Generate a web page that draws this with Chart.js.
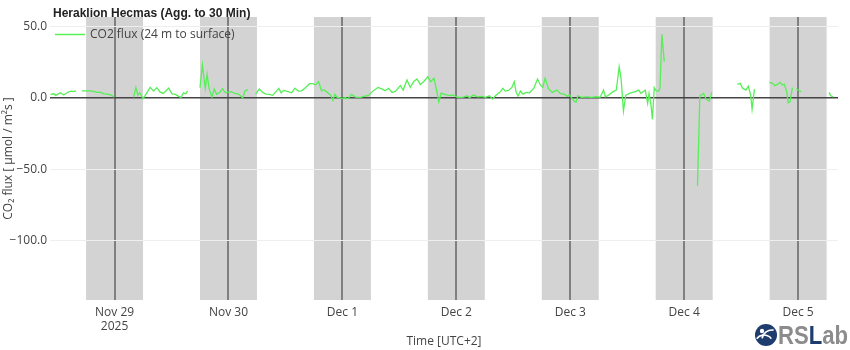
<!DOCTYPE html>
<html>
<head>
<meta charset="utf-8">
<script src="https://cdn.jsdelivr.net/npm/chart.js@4"></script>
<style>
  html, body { margin: 0; padding: 0; background: #fff; }
</style>
</head>
<body>
<canvas id="chart" width="850" height="350"></canvas>
<script>
// ---------------- DATA ----------------
// hours relative to Nov 29 2025 00:00 (UTC+2); null = gap in record

const fluxHours = [
    -13.5, -12.8, -12.4, -11.4, -10.7, -9.8, -9.1, -8.6, -8.1, -7.5,
    -6.9, -5.1, -4.4, -3.7, -3.0, -2.3, -1.4, -0.6, -0.1, 2.0,
    4.0, 4.5, 4.9, 5.3, 6.0, 6.5, 7.5, 8.2, 8.9, 9.6, 10.3, 11.4, 12.1, 12.8, 13.5, 14.0, 14.5, 15.0, 15.4, 16.5,
    18.0, 18.5, 19.1, 19.5, 19.9, 20.5, 21.0, 21.5, 22.2, 22.7, 23.4, 24.4, 25.4, 26.1, 27.0, 27.5, 28.1, 29.0,
    29.7, 30.5, 31.2, 31.9, 32.6, 33.3, 34.0, 34.6, 35.1, 35.6, 36.4, 37.3, 38.0, 38.7, 39.4, 40.2, 41.1, 41.8,
    42.3, 43.0, 43.6, 44.1, 44.8, 45.5, 46.0, 46.4, 46.9, 47.6, 47.9, 48.6, 49.2, 49.9, 50.4, 50.7, 51.8, 52.7,
    53.5, 54.6, 55.5, 56.4, 57.0, 57.7, 58.5, 59.2, 60.2, 60.8, 61.6, 62.3, 63.0, 63.7, 64.4, 65.1, 66.0, 66.6,
    67.3, 67.9, 68.3, 68.8, 69.5, 70.4, 71.4, 72.1, 72.8, 73.5, 74.3, 74.8, 75.6, 76.5, 77.4, 78.1, 79.0, 79.6,
    80.4, 81.3, 81.8, 82.3, 83.0, 83.7, 84.2, 84.6, 85.0, 85.5, 86.0, 86.7, 87.4, 88.3, 89.1, 89.7, 90.2, 90.7,
    91.4, 92.2, 93.2, 93.9, 94.7, 95.4, 95.8, 96.3, 96.7, 97.2, 97.6, 98.4, 99.5, 100.5, 101.5, 102.3, 103.0,
    103.4, 104.1, 105.0, 105.7, 106.3, 106.7, 107.2, 107.7, 108.6, 109.7, 110.4, 110.9, 111.8, 112.3, 112.6,
    113.0, 113.3, 113.7, 114.1, 114.6, 114.9, 115.3, 115.8, 119.0,
    122.8, 123.3, 124.1, 124.6, 125.3, 125.8, 128.0,
    131.2, 131.8, 132.3, 133.0, 133.5, 134.0, 134.3, 134.8, 136.0,
    137.9, 138.6, 139.1, 139.6, 140.2, 140.7, 141.1, 141.6, 141.9, 142.3, 142.8, 143.2,
    143.6, 144.1, 144.6, 147.0,
    150.5, 150.9, 151.4
];

const fluxValues = [
    2.6, 3.0, 1.9, 3.7, 2.1, 4.2, 4.9, 4.5, 5.1, null,
    5.1, 5.1, 4.7, 4.0, 4.2, 3.0, 2.8, 1.9, 0.5, null,
    0.5, 7.5, 2.1, 3.7, -0.5, 2.1, 7.5, 4.9, 7.3, 4.2, 3.3, 7.0, 3.0, 2.6, 1.2, 0.5, 3.7, 3.0, 5.1, null,
    7.3, 23.2, 6.8, 16.7, 6.8, 0.7, 6.3, 2.6, 4.0, 6.5, 3.7, 4.5, 3.3, 2.8, 0.2, 5.1, 5.9, null,
    2.8, 6.3, 4.0, 2.8, 2.6, 1.9, 4.5, 6.8, 3.7, 5.4, 4.7, 3.7, 7.0, 4.9, 5.1, 7.3, 10.1, 10.1,
    9.2, 11.5, 5.1, 5.9, 4.0, 2.1, -1.6, 2.6, 0.5, 0.2, -0.2, 0.2, -0.5, 2.6, 1.6, 0.7, 0.5, 1.4,
    1.9, 5.4, 7.5, 6.3, 5.1, 6.8, 4.0, 4.9, 8.7, 5.6, 12.7, 7.5, 11.5, 13.4, 9.6, 11.5, 15.0, 11.5,
    13.9, 4.5, -2.6, 3.5, 2.6, 1.9, 2.1, 0.7, 0.5, 0.7, 1.6, 0.2, 2.1, 0.9, 1.2, 0.5, 1.6, -0.7,
    2.1, 4.5, 6.8, 4.9, 5.4, 7.5, 11.5, 4.0, 1.4, 4.9, 2.8, 4.0, 3.7, 6.8, 13.4, 9.2, 7.5, 13.9,
    6.8, 4.0, 5.6, 3.3, 2.8, 1.2, 2.3, 0.2, -1.9, -3.0, 1.6, 0.5, 0.9, 0.5, 0.9, 0.5, 5.6,
    0.9, 2.1, 4.5, 5.6, 22.0, 13.9, -9.2, 2.1, 3.5, 4.5, 5.6, 3.3, 5.6, -3.8, 3.3,
    -4.9, -14.8, 7.3, 5.1, 4.9, 6.8, 44.8, 25.6, null,
    -61.7, 1.6, 3.3, -0.7, -2.1, 4.0, null,
    9.6, 10.3, 6.8, 5.6, 8.4, 2.1, -7.7, 6.3, null,
    11.0, 10.3, 8.7, 9.6, 11.0, 9.2, 9.6, 4.5, -3.3, -2.6, 7.3, null,
    6.5, 5.5, 4.5, null,
    4.0, 1.6, 0.9
];

// night periods (18:00 - 06:00), hours
const nightStart = [-6, 18, 42, 66, 90, 114, 138];
const nightEnd = [6, 30, 54, 78, 102, 126, 150];

const midnights = [0, 24, 48, 72, 96, 120, 144];
const xTickLabels = [["Nov 29", "2025"], "Nov 30", "Dec 1", "Dec 2", "Dec 3", "Dec 4", "Dec 5"];
const yTicks = [-100, -50, 0, 50];

const TICK_FONT = "'Open Sans', sans-serif";
const TITLE_FONT = "'Liberation Sans', Arial, sans-serif";

// ---------------- PLUGINS ----------------

const nightBands = {
    id: "nightBands",
    beforeDraw(chart) {
        const { ctx, chartArea: a, scales: { x } } = chart;
        ctx.save();
        ctx.beginPath();
        ctx.rect(a.left, a.top, a.right - a.left, a.bottom - a.top);
        ctx.clip();
        ctx.fillStyle = "#d3d3d3";
        for (let i = 0; i < nightStart.length; i++) {
            const x0 = x.getPixelForValue(nightStart[i]);
            const x1 = x.getPixelForValue(nightEnd[i]);
            ctx.fillRect(x0, a.top, x1 - x0, a.bottom - a.top);
        }
        ctx.restore();
    }
};

const overlay = {
    id: "overlay",
    afterDraw(chart) {
        const ctx = chart.ctx;
        const ds = chart.data.datasets[0];
        ctx.save();

        // title
        ctx.fillStyle = "#222";
        ctx.font = "bold 12px " + TITLE_FONT;
        ctx.textBaseline = "middle";
        ctx.textAlign = "left";
        ctx.fillText("Heraklion Hecmas (Agg. to 30 Min)", 53, 14);

        // legend
        ctx.strokeStyle = ds.borderColor;
        ctx.lineWidth = 1.5;
        ctx.beginPath();
        ctx.moveTo(55, 34.5);
        ctx.lineTo(85, 34.5);
        ctx.stroke();
        ctx.fillStyle = "#444";
        ctx.font = "12px " + TICK_FONT;
        ctx.fillText(ds.label, 90, 35);

        // logo
        const cx = 766, cy = 335;
        ctx.fillStyle = "#1f3c6e";
        ctx.beginPath();
        ctx.arc(cx, cy, 11, 0, Math.PI * 2);
        ctx.fill();
        ctx.strokeStyle = "#fff";
        ctx.lineWidth = 1.6;
        ctx.beginPath();
        ctx.arc(cx + 6, cy + 5, 10, Math.PI * 1.05, Math.PI * 1.55);
        ctx.stroke();
        ctx.beginPath();
        ctx.arc(cx - 2, cy + 9, 9, Math.PI * 1.2, Math.PI * 1.8);
        ctx.stroke();
        ctx.beginPath();
        ctx.arc(cx - 4, cy - 4, 2.2, 0, Math.PI * 2);
        ctx.fillStyle = "#fff";
        ctx.fill();

        ctx.font = "bold 26px " + TITLE_FONT;
        ctx.textBaseline = "alphabetic";
        const parts = [["RS", "#8c8c8c"], ["L", "#1f3c6e"], ["ab", "#8c8c8c"]];
        const total = parts.reduce((s, p) => s + ctx.measureText(p[0]).width, 0);
        ctx.translate(778, 344);
        ctx.scale(70 / total, 1);
        let px = 0;
        parts.forEach(p => {
            ctx.fillStyle = p[1];
            ctx.fillText(p[0], px, 0);
            px += ctx.measureText(p[0]).width;
        });
        ctx.restore();
    }
};

// ---------------- CHART ----------------

const points = fluxHours.map((h, i) => ({ x: h, y: fluxValues[i] }));

const chart = new Chart(document.getElementById("chart").getContext("2d"), {
    type: "line",
    data: {
        datasets: [{
            label: "CO2 flux (24 m to surface)",
            data: points,
            borderColor: "rgb(85,240,85)",
            borderWidth: 1.3,
            pointRadius: 0,
            spanGaps: false,
            tension: 0
        }]
    },
    options: {
        responsive: false,
        animation: false,
        layout: { padding: { top: 17, right: 12, left: 0, bottom: 0 } },
        plugins: {
            legend: { display: false },
            tooltip: { enabled: false }
        },
        scales: {
            x: {
                type: "linear",
                min: -13.6,
                max: 152.4,
                afterBuildTicks: s => { s.ticks = midnights.map(v => ({ value: v })); },
                afterFit: s => { s.height = 50; },
                border: { display: false },
                grid: { color: "#808080", lineWidth: 2, drawTicks: false },
                ticks: {
                    autoSkip: false,
                    maxRotation: 0,
                    padding: 5,
                    color: "#444",
                    font: { family: TICK_FONT, size: 12 },
                    callback: (v, i) => xTickLabels[i]
                },
                title: {
                    display: true,
                    text: "Time [UTC+2]",
                    color: "#444",
                    font: { family: TICK_FONT, size: 12 },
                    padding: { top: 0, bottom: 1 }
                }
            },
            y: {
                min: -142,
                max: 57,
                afterBuildTicks: s => { s.ticks = yTicks.map(v => ({ value: v })); },
                afterFit: s => { s.width = 50; },
                border: { display: false },
                grid: {
                    color: c => c.tick && c.tick.value === 0 ? "#444" : "#eeeeee",
                    lineWidth: c => c.tick && c.tick.value === 0 ? 1.5 : 1,
                    drawTicks: false
                },
                ticks: {
                    padding: 3,
                    color: "#444",
                    font: { family: TICK_FONT, size: 12 },
                    callback: v => (v < 0 ? "\u2212" : "") + Math.abs(v).toFixed(1)
                },
                title: {
                    display: true,
                    text: "CO\u2082 flux [ \u03bcmol / m\u00b2s ]",
                    color: "#444",
                    font: { family: TICK_FONT, size: 12 },
                    padding: { top: 1, bottom: 0 }
                }
            }
        }
    },
    plugins: [nightBands, overlay]
});
</script>
</body>
</html>
